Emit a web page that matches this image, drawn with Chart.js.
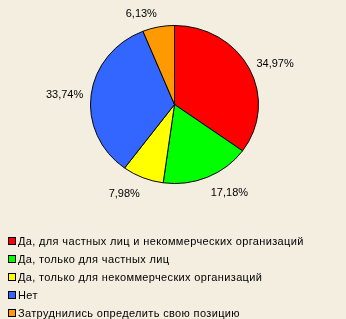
<!DOCTYPE html>
<html>
<head>
<meta charset="utf-8">
<script src="https://cdn.jsdelivr.net/npm/chart.js@4/dist/chart.umd.min.js"></script>
<style>
  html, body { margin: 0; padding: 0; background: #F3EEE0; }
  #wrap { width: 346px; height: 319px; position: relative; }
</style>
</head>
<body>
<div id="wrap"><canvas id="c" width="346" height="319"></canvas></div>
<script>
// Survey answers and their shares, %
const categories = [
  'Да, для частных лиц и некоммерческих организаций',
  'Да, только для частных лиц',
  'Да, только для некоммерческих организаций',
  'Нет',
  'Затруднились определить свою позицию'
];
const shares = [34.97, 17.18, 7.98, 33.74, 6.13];
const sliceColors = ['#FF0000', '#00FF00', '#FFFF00', '#3366FF', '#FF9900'];

const FONT = '11px "Liberation Sans", Arial, sans-serif';
const Y_SQUASH = 79.5 / 84.5; // pie is drawn slightly flattened vertically

function fmt(v) {
  return v.toFixed(2).replace('.', ',') + '%';
}

// Flatten the pie a little around its centre
const squashPlugin = {
  id: 'squash',
  beforeDatasetsDraw(chart) {
    const arc = chart.getDatasetMeta(0).data[0];
    const ctx = chart.ctx;
    ctx.save();
    ctx.translate(arc.x, arc.y);
    ctx.scale(1, Y_SQUASH);
    ctx.translate(-arc.x, -arc.y);
  },
  afterDatasetsDraw(chart) {
    chart.ctx.restore();
  }
};

// Percentage labels outside each slice
const labelPlugin = {
  id: 'outerLabels',
  afterDraw(chart) {
    const ctx = chart.ctx;
    const meta = chart.getDatasetMeta(0);
    ctx.save();
    ctx.font = FONT;
    ctx.fillStyle = '#000';
    ctx.textBaseline = 'middle';
    meta.data.forEach((arc, i) => {
      const mid = (arc.startAngle + arc.endAngle) / 2;
      const x = arc.x + Math.cos(mid) * (arc.outerRadius + 8);
      const y = arc.y + Math.sin(mid) * (arc.outerRadius + 16) * Y_SQUASH + 2;
      ctx.textAlign = Math.cos(mid) >= 0 ? 'left' : 'right';
      ctx.fillText(fmt(shares[i]), x, y);
    });
    ctx.restore();
  }
};

// Vertical legend in the lower left
const legendPlugin = {
  id: 'vLegend',
  afterDraw(chart) {
    const ctx = chart.ctx;
    ctx.save();
    ctx.font = FONT;
    ctx.letterSpacing = '0.35px';
    ctx.textBaseline = 'middle';
    ctx.textAlign = 'left';
    categories.forEach((name, i) => {
      const cy = 241 + i * 18;
      ctx.fillStyle = sliceColors[i];
      ctx.fillRect(8.5, cy - 3.5, 7, 7);
      ctx.strokeStyle = '#000';
      ctx.lineWidth = 1;
      ctx.strokeRect(8.5, cy - 3.5, 7, 7);
      ctx.fillStyle = '#000';
      ctx.fillText(name, 18, cy + 1);
    });
    ctx.restore();
  }
};

new Chart(document.getElementById('c'), {
  type: 'pie',
  data: {
    labels: categories,
    datasets: [{
      data: shares,
      backgroundColor: sliceColors,
      borderColor: '#000',
      borderWidth: 1
    }]
  },
  options: {
    responsive: false,
    animation: false,
    layout: { padding: { left: 90, right: 87, top: 20, bottom: 130 } },
    plugins: {
      legend: { display: false },
      tooltip: { enabled: false }
    }
  },
  plugins: [squashPlugin, labelPlugin, legendPlugin]
});
</script>
</body>
</html>
